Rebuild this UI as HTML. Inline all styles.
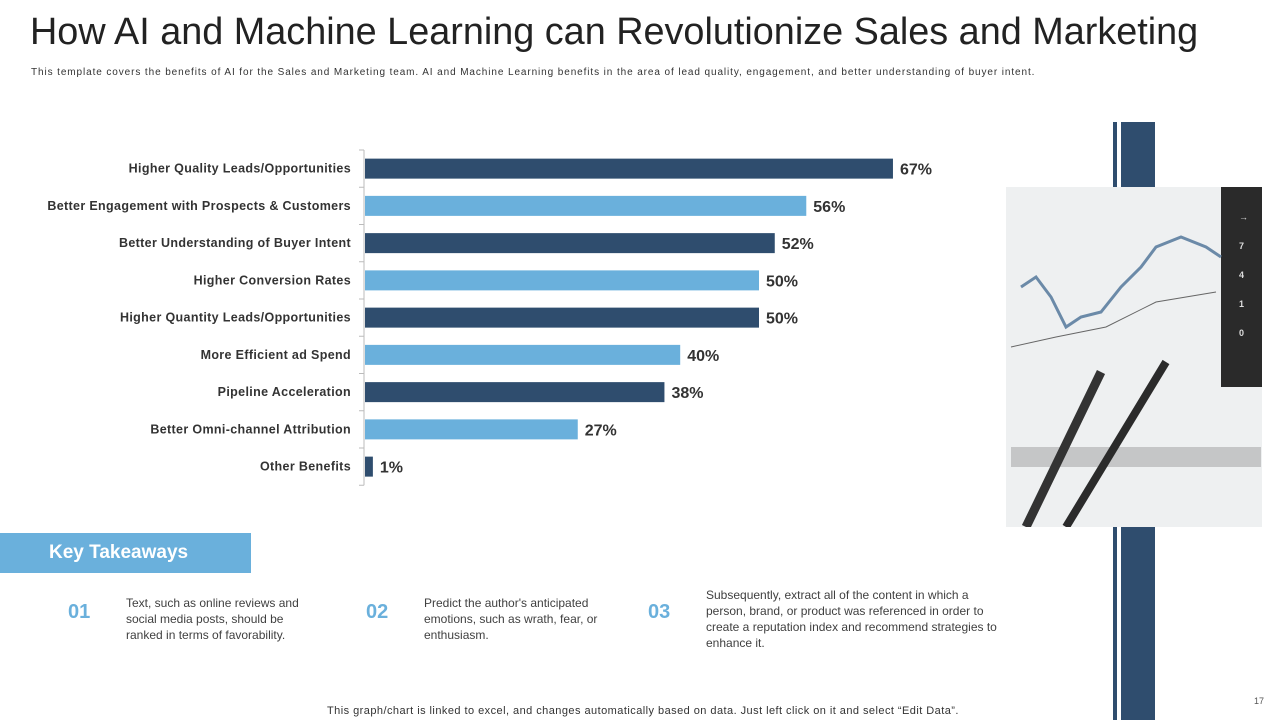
<!DOCTYPE html>
<html><head><meta charset="utf-8"><style>
body{margin:0;width:1280px;height:720px;background:#fff;position:relative;overflow:hidden;font-family:"Liberation Sans",sans-serif}
.a{position:absolute}
.txt{font-size:12px;color:#404040;line-height:16px}
.num{font-size:20px;color:#6ab0dc;font-weight:bold}
</style></head><body>
<div class="a" style="left:30px;top:11px;font-size:37.8px;color:#222;white-space:nowrap">How AI and Machine Learning can Revolutionize Sales and Marketing</div>
<div class="a" style="left:31px;top:67px;font-size:10px;color:#333;letter-spacing:0.9px;white-space:nowrap">This template covers the benefits of AI for the Sales and Marketing team. AI and Machine Learning benefits in the area of lead quality, engagement, and  better understanding of buyer intent.</div>
<div class="a" style="left:1113px;top:122px;width:4px;height:598px;background:#2f4d6e"></div>
<div class="a" style="left:1121px;top:122px;width:34px;height:598px;background:#2f4d6e"></div>
<svg class="a" style="left:1006px;top:187px" width="256" height="340">
<rect width="256" height="340" fill="#eef0f1"/>
<rect x="215" y="0" width="41" height="200" fill="#2a2a2a"/>
<g fill="#ddd" font-size="9" font-family="Liberation Sans" font-weight="bold"><text x="233" y="33">→</text><text x="233" y="62">7</text><text x="233" y="91">4</text><text x="233" y="120">1</text><text x="233" y="149">0</text></g>
<polyline points="15,100 30,90 45,110 60,140 75,130 95,125 115,100 135,80 150,60 175,50 200,60 215,70" fill="none" stroke="#6b8aa8" stroke-width="3"/>
<polyline points="5,160 50,150 100,140 150,115 210,105" fill="none" stroke="#666" stroke-width="1"/>
<g fill="#777"><rect x="5" y="260" width="250" height="20" opacity=".35"/></g>
<line x1="20" y1="340" x2="95" y2="185" stroke="#333" stroke-width="9"/>
<line x1="60" y1="340" x2="160" y2="175" stroke="#2b2b2b" stroke-width="8"/>
</svg>
<svg class="a" style="left:0;top:0" width="1000" height="520" id="chart"></svg>
<div class="a" style="left:0;top:533px;width:251px;height:40px;background:#6ab0dc;color:#fff;font-weight:bold;font-size:19px;line-height:40px;padding-left:49px;box-sizing:border-box">Key Takeaways</div>
<div class="a num" style="left:68px;top:601px">01</div>
<div class="a txt" style="left:126px;top:595px;width:195px">Text, such as online reviews  and social media posts, should be ranked in terms of favorability.</div>
<div class="a num" style="left:366px;top:601px">02</div>
<div class="a txt" style="left:424px;top:595px;width:185px">Predict the author's anticipated emotions, such as wrath, fear, or enthusiasm.</div>
<div class="a num" style="left:648px;top:601px">03</div>
<div class="a txt" style="left:706px;top:587px;width:295px">Subsequently, extract all of the content in which a person, brand, or product was referenced  in order to create a reputation index and recommend strategies to enhance it.</div>
<div class="a" style="left:327px;top:705px;font-size:11px;color:#333;letter-spacing:0.45px;white-space:nowrap">This graph/chart is linked to excel, and changes automatically based on data. Just left click on it and select “Edit Data”.</div>
<div class="a" style="left:1254px;top:696px;font-size:9px;color:#555">17</div>
<script>
const categories=["Higher Quality Leads/Opportunities","Better Engagement with Prospects & Customers","Better Understanding of Buyer Intent","Higher Conversion Rates","Higher Quantity Leads/Opportunities","More Efficient ad Spend","Pipeline Acceleration","Better Omni-channel Attribution","Other Benefits"];
const values=[67,56,52,50,50,40,38,27,1];
const colors=["#2f4d6e","#6ab0dc"];
const svg=document.getElementById('chart');const NS='http://www.w3.org/2000/svg';
const x0=365,pxPer=7.88,yTop=150,step=37.25;
const xS=v=>x0+v*pxPer;
const yS=i=>yTop+i*step;
function mk(t,a){const e=document.createElementNS(NS,t);for(const k in a)e.setAttribute(k,a[k]);svg.appendChild(e);return e;}
const ax=mk('line',{x1:364,y1:yS(0),x2:364,y2:yS(categories.length),stroke:'#bbb'});


for(let i=0;i<=categories.length;i++){mk('line',{x1:359,y1:yS(i),x2:364,y2:yS(i),stroke:'#bbb'});}
categories.forEach((c,i)=>{
 const cy=yS(i)+step/2;
 const r=mk('rect',{x:x0,y:cy-10,width:xS(values[i])-x0,height:20,fill:colors[i%2]});
 
 
 const l=mk('text',{x:351,y:cy+4,'text-anchor':'end','font-size':12.5,'font-weight':'bold',fill:'#333','font-family':'Liberation Sans','letter-spacing':'0.35'});l.textContent=c;
 
 
 const v=mk('text',{x:xS(values[i])+7,y:cy+6,'font-size':16,'font-weight':'bold',fill:'#333','font-family':'Liberation Sans'});v.textContent=values[i]+'%';
 
 
});
</script>
</body></html>
